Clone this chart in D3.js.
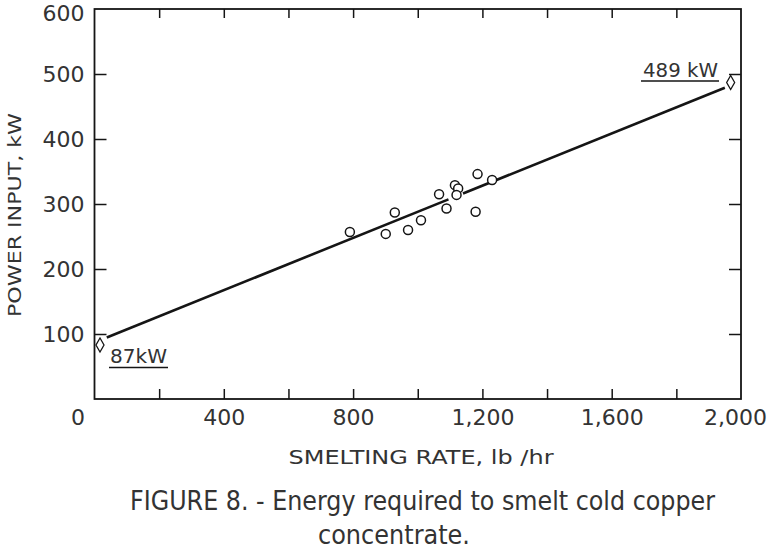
<!DOCTYPE html>
<html>
<head>
<meta charset="utf-8">
<script src="https://cdn.jsdelivr.net/npm/d3@7"></script>
<style>
  html, body { margin: 0; padding: 0; background: #fff; }
  svg { display: block; }
  text { font-family: "DejaVu Sans", sans-serif; fill: #333; }
</style>
</head>
<body>
<svg id="chart" width="769" height="552"></svg>
<script>
// ---- data ----
const smeltingRate = [790, 901, 929, 970, 1010, 1066, 1089, 1115, 1125, 1120, 1185, 1179, 1230];
const powerInput   = [257, 254, 287, 260, 275, 315, 293, 329, 324, 314, 346, 288, 337];
const fitIntercept = 87;   // kW at 0 lb/hr
const fitEndValue  = 489;  // kW at 2000 lb/hr
const fitSegments  = [[38, 1095], [1140, 1950]];
const endRate  = [17, 1968];
const endPower = [83, 487];
const endLabels = ["87kW", "489 kW"];
const xLabelTicks = [0, 400, 800, 1200, 1600, 2000];
const xLabelText  = ["0", "400", "800", "1,200", "1,600", "2,000"];
const xMinorTicks = [200, 400, 600, 800, 1000, 1200, 1400, 1600, 1800];
const yLabelTicks = [100, 200, 300, 400, 500, 600];
const yMinorTicks = [100, 200, 300, 400, 500];

const svg = d3.select("#chart");
const x = d3.scaleLinear().domain([0, 2000]).range([94.5, 741]);
const y = d3.scaleLinear().domain([0, 600]).range([399, 9]);
const ink = "#151515";
const txt = "#333";

// frame
svg.append("rect")
  .attr("x", x(0)).attr("y", y(600))
  .attr("width", x(2000) - x(0)).attr("height", y(0) - y(600))
  .attr("fill", "none").attr("stroke", ink).attr("stroke-width", 1.8);

function styleAxis(g) {
  g.select(".domain").remove();
  g.selectAll("line").attr("stroke", ink).attr("stroke-width", 1.5);
}

// bottom ticks (inside)
svg.append("g").attr("transform", `translate(0,${y(0)})`)
  .call(d3.axisBottom(x).tickValues(xMinorTicks).tickSize(-10).tickFormat(""))
  .call(styleAxis);
// top ticks
svg.append("g").attr("transform", `translate(0,${y(600)})`)
  .call(d3.axisTop(x).tickValues(xMinorTicks).tickSize(-9).tickFormat(""))
  .call(styleAxis);
// left ticks
svg.append("g").attr("transform", `translate(${x(0)},0)`)
  .call(d3.axisLeft(y).tickValues(yMinorTicks).tickSize(-12).tickFormat(""))
  .call(styleAxis);
// right ticks
svg.append("g").attr("transform", `translate(${x(2000)},0)`)
  .call(d3.axisRight(y).tickValues(yMinorTicks).tickSize(-12).tickFormat(""))
  .call(styleAxis);

// x labels
const xl = svg.append("g").attr("transform", `translate(0,${y(0)})`)
  .call(d3.axisBottom(x).tickValues(xLabelTicks).tickSize(0).tickPadding(10)
        .tickFormat((d, i) => xLabelText[i]));
xl.select(".domain").remove();
xl.selectAll("text").attr("font-size", 22).attr("font-family", "DejaVu Sans").attr("fill", txt)
  .attr("dx", d => d === 0 ? -17 : (d === 2000 ? -6 : 0));

// y labels
const yl = svg.append("g").attr("transform", `translate(${x(0)},0)`)
  .call(d3.axisLeft(y).tickValues(yLabelTicks).tickSize(0).tickPadding(10));
yl.select(".domain").remove();
yl.selectAll("text").attr("font-size", 22).attr("font-family", "DejaVu Sans").attr("fill", txt)
  .attr("dy", d => d === 600 ? "0.5em" : "0.36em");

// fit line segments
const fit = v => fitIntercept + (fitEndValue - fitIntercept) * v / 2000;
svg.append("g").selectAll("line").data(fitSegments).join("line")
  .attr("x1", d => x(d[0])).attr("y1", d => y(fit(d[0])))
  .attr("x2", d => x(d[1])).attr("y2", d => y(fit(d[1])))
  .attr("stroke", ink).attr("stroke-width", 2.6);

// points
svg.append("g").selectAll("circle").data(smeltingRate).join("circle")
  .attr("cx", d => x(d)).attr("cy", (d, i) => y(powerInput[i]))
  .attr("r", 4.5).attr("fill", "#fff").attr("stroke", ink).attr("stroke-width", 1.5);

// end diamonds
svg.append("g").selectAll("path").data(endRate).join("path")
  .attr("transform", (d, i) => `translate(${x(d)},${y(endPower[i])})`)
  .attr("d", "M0,-7L4,0L0,7L-4,0Z")
  .attr("fill", "#fff").attr("stroke", ink).attr("stroke-width", 1.3);

// end labels with underline
const lab = [
  { t: endLabels[0], x: 110, y: 363, ux1: 109, ux2: 168, uy: 367.5, len: 57 },
  { t: endLabels[1], x: 643, y: 77, ux1: 641, ux2: 719, uy: 81, len: 75 }
];
lab.forEach(l => {
  svg.append("text").attr("x", l.x).attr("y", l.y).attr("font-size", 20)
    .attr("textLength", l.len).attr("lengthAdjust", "spacingAndGlyphs").text(l.t);
  svg.append("line").attr("x1", l.ux1).attr("x2", l.ux2).attr("y1", l.uy).attr("y2", l.uy)
    .attr("stroke", ink).attr("stroke-width", 1.3);
});

// axis titles
svg.append("text").attr("x", 421).attr("y", 464).attr("text-anchor", "middle")
  .attr("font-size", 19).attr("textLength", 265).attr("lengthAdjust", "spacingAndGlyphs")
  .text("SMELTING RATE, lb /hr");
svg.append("text").attr("transform", "translate(21,215) rotate(-90)").attr("text-anchor", "middle")
  .attr("font-size", 18).attr("textLength", 204).attr("lengthAdjust", "spacingAndGlyphs")
  .text("POWER INPUT, kW");

// caption
svg.append("text").attr("x", 130).attr("y", 510).attr("font-size", 26)
  .attr("textLength", 585).attr("lengthAdjust", "spacingAndGlyphs")
  .text("FIGURE 8. - Energy required to smelt cold copper");
svg.append("text").attr("x", 318).attr("y", 544).attr("font-size", 26)
  .attr("textLength", 152).attr("lengthAdjust", "spacingAndGlyphs")
  .text("concentrate.");
</script>
</body>
</html>
